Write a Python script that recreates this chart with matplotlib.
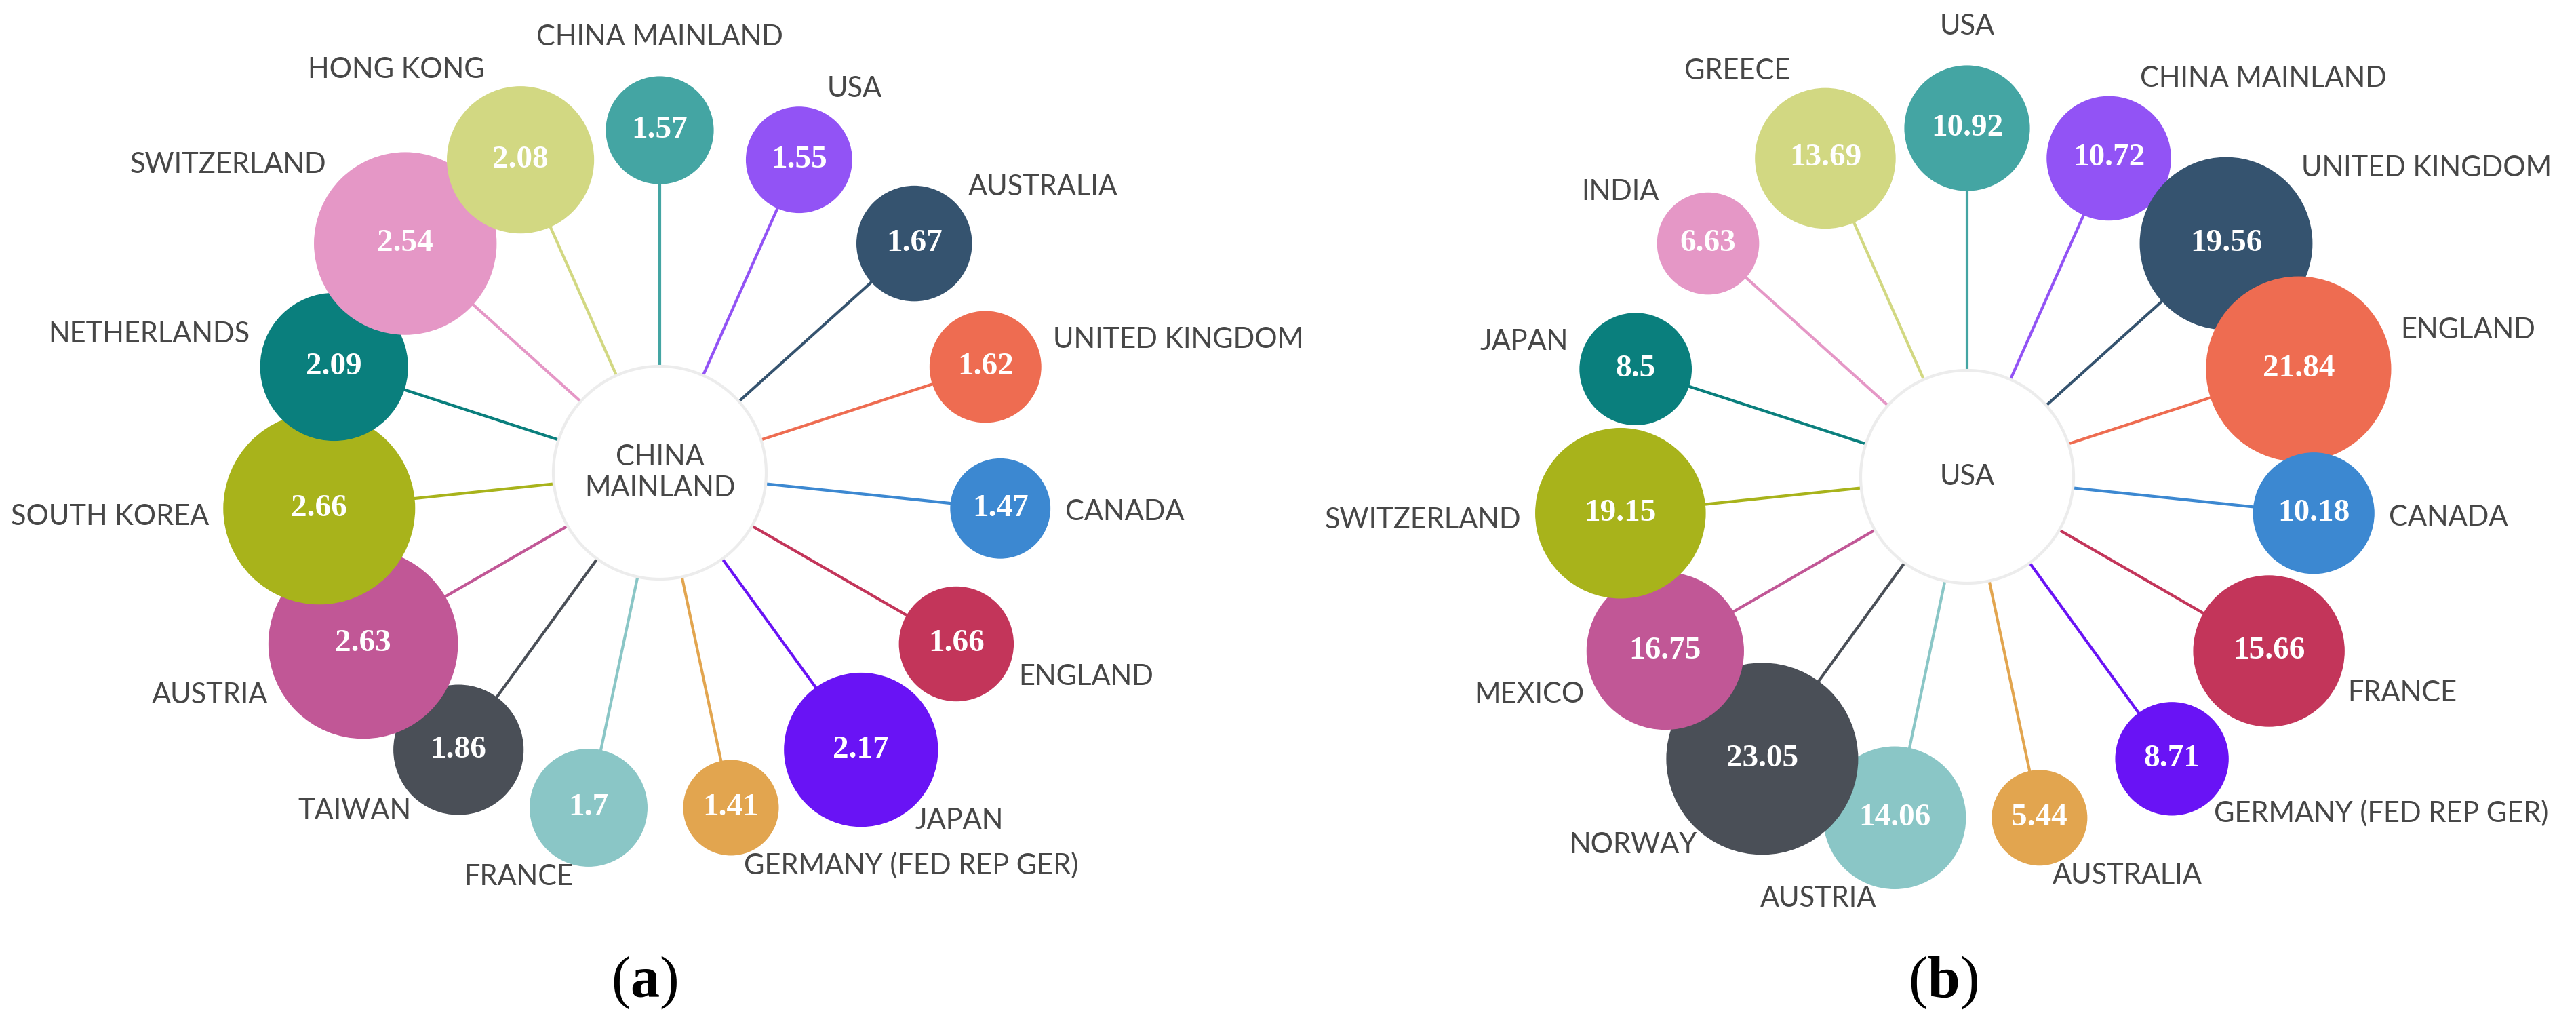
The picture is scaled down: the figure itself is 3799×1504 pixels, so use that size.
import numpy as np
import matplotlib.pyplot as plt
from matplotlib.patches import Circle

# ---- data -------------------------------------------------------------
# panel (a): partners of China Mainland, clockwise from the top
hub_a = "CHINA\nMAINLAND"
names_a = ["CHINA MAINLAND", "USA", "AUSTRALIA", "UNITED KINGDOM", "CANADA",
           "ENGLAND", "JAPAN", "GERMANY (FED REP GER)", "FRANCE", "TAIWAN",
           "AUSTRIA", "SOUTH KOREA", "NETHERLANDS", "SWITZERLAND", "HONG KONG"]
values_a = [1.57, 1.55, 1.67, 1.62, 1.47, 1.66, 2.17, 1.41, 1.7, 1.86,
            2.63, 2.66, 2.09, 2.54, 2.08]

# panel (b): partners of USA, clockwise from the top
hub_b = "USA"
names_b = ["USA", "CHINA MAINLAND", "UNITED KINGDOM", "ENGLAND", "CANADA",
           "FRANCE", "GERMANY (FED REP GER)", "AUSTRALIA", "AUSTRIA", "NORWAY",
           "MEXICO", "SWITZERLAND", "JAPAN", "INDIA", "GREECE"]
values_b = [10.92, 10.72, 19.56, 21.84, 10.18, 15.66, 8.71, 5.44, 14.06, 23.05,
            16.75, 19.15, 8.5, 6.63, 13.69]

# colour per position on the ring (same for both panels)
palette = ['#44a5a3', '#9253f5', '#35536f', '#ee6c51', '#3c88d1',
           '#c3355a', '#6913f5', '#e2a54f', '#8ac6c6', '#4a4f57',
           '#c15796', '#a8b31b', '#0a7f7d', '#e597c6', '#d2d882']

# ---- layout (pixels of the 3799x1504 canvas) ---------------------------
W, H = 3799, 1504
HUB_R = 157
R_MIN, R_MAX = 70.5, 141.5
LABEL_FONT = 'Lato'
LABEL_COLOR = '#474747'

plt.rcParams['mathtext.fontset'] = 'custom'
plt.rcParams['mathtext.rm'] = 'Liberation Serif'
plt.rcParams['mathtext.bf'] = 'Liberation Serif:bold'


def bubble_radius(v, vmin, vmax):
    # linear size scale between smallest and largest value of the panel
    return R_MIN + (R_MAX - R_MIN) * (v - vmin) / (vmax - vmin)


def draw_panel(ax, cx, cy, ring, hub, names, values, caption, cap_x):
    vmin, vmax = min(values), max(values)
    n = len(names)
    for i, (name, v) in enumerate(zip(names, values)):
        ang = np.radians(90 - 360.0 / n * i)
        ux, uy = np.cos(ang), np.sin(ang)
        bx, by = cx + ring * ux, cy - ring * uy
        r = bubble_radius(v, vmin, vmax)
        col = palette[i]

        # link hub -> node
        ax.plot([cx, bx], [cy, by], color=col, lw=3.0, zorder=1,
                solid_capstyle='butt')
        ax.add_patch(Circle((bx, by), r, facecolor=col, edgecolor='none',
                            zorder=3))
        ax.text(bx, by, f'{v:g}', ha='center', va='center', color='white',
                fontsize=34, fontweight='bold', family='Liberation Serif',
                zorder=4)

        # outside label
        if abs(ux) < 0.1:
            d = r + 57
            lx, ly = bx + d * ux, by - d * uy
            ha = 'center'
        else:
            d = r + 22
            lx, ly = bx + d * ux, by - d * uy - (5 + 9 * max(uy, 0))
            ha = 'left' if ux > 0 else 'right'
        ax.text(lx, ly, name, ha=ha, va='center', color=LABEL_COLOR,
                fontsize=30, family=LABEL_FONT, zorder=5)

    # hub node
    ax.add_patch(Circle((cx, cy), HUB_R, facecolor='white',
                        edgecolor='#ececec', lw=3, zorder=2))
    ax.text(cx, cy, hub, ha='center', va='center', color=LABEL_COLOR,
            fontsize=30, family=LABEL_FONT, linespacing=1.25, zorder=5)

    # caption (a) / (b)
    ax.text(cap_x, 1449, '($\\mathbf{' + caption + '}$)', ha='center',
            va='center', fontsize=62, family='Liberation Serif')


fig = plt.figure(figsize=(W / 100, H / 100), dpi=100)
ax = fig.add_axes([0, 0, 1, 1])
ax.set_xlim(0, W)
ax.set_ylim(H, 0)
ax.set_aspect('equal')
ax.axis('off')

draw_panel(ax, 973, 697, 505, hub_a, names_a, values_a, 'a', 950)
draw_panel(ax, 2901, 703, 514, hub_b, names_b, values_b, 'b', 2866)

fig.savefig('out.png', dpi=100, facecolor='white')
